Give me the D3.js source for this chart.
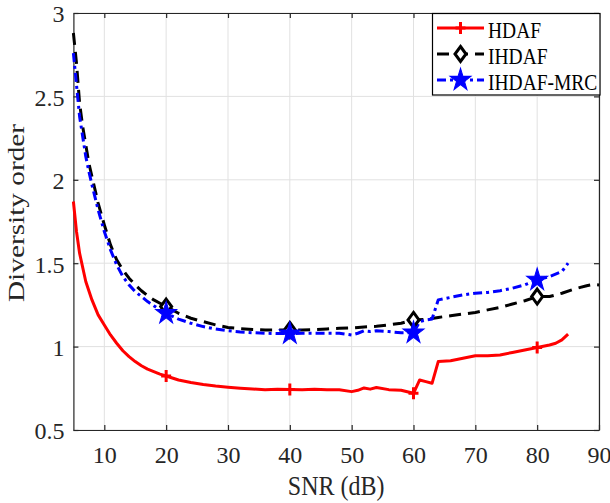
<!DOCTYPE html>
<html><head><meta charset="utf-8">
<script src="https://cdn.jsdelivr.net/npm/d3@7"></script>
<style>
html,body{margin:0;padding:0;background:#fff;}
svg{display:block;font-family:"Liberation Serif","Times New Roman",serif;}
</style></head>
<body>
<svg id="chart" width="610" height="503"></svg>
<script>
// ---- data ----
const seriesNames = ["HDAF", "IHDAF", "IHDAF-MRC"];
const snrHdaf = [5,5.5,6,7,8,9,10,11,12,13,14,15,16,17,18,19,20,22,24,26,28,30,32,34,36,38,40,42,44,46,48,50,51,52,53,54,56,58,60,61,62,63,64,66,68,70,72,74,76,78,80,82,83,84,85];
const hdaf = [1.87,1.69,1.56,1.39,1.28,1.19,1.13,1.07,1.02,0.975,0.94,0.91,0.885,0.865,0.85,0.835,0.824,0.80,0.785,0.773,0.764,0.757,0.751,0.746,0.742,0.745,0.743,0.741,0.744,0.742,0.741,0.73,0.738,0.752,0.745,0.755,0.742,0.738,0.72,0.80,0.79,0.78,0.91,0.915,0.93,0.945,0.945,0.95,0.965,0.98,0.995,1.01,1.02,1.04,1.075];
const snrIhdaf = [5,5.5,6,6.5,7,7.5,8,9,10,11,12,13,14,15,16,17,18,19,20,22,24,26,28,30,32,34,36,38,40,42,44,46,48,50,52,54,56,58,60,62,64,66,68,70,72,74,76,78,80,82,84,86,88,89,90];
const ihdaf = [2.88,2.70,2.46,2.32,2.21,2.10,2.02,1.86,1.73,1.61,1.52,1.46,1.41,1.37,1.335,1.305,1.28,1.26,1.24,1.20,1.17,1.15,1.13,1.115,1.108,1.103,1.10,1.10,1.10,1.10,1.102,1.106,1.11,1.112,1.118,1.122,1.13,1.14,1.16,1.163,1.175,1.185,1.195,1.205,1.22,1.235,1.255,1.275,1.30,1.30,1.32,1.345,1.365,1.372,1.37];
const snrMrc = [5,5.5,6,6.5,7,7.5,8,9,10,11,12,13,14,15,16,17,18,19,20,22,24,26,28,30,32,34,36,38,40,42,44,46,48,49,50,51,52,53,54,56,58,60,61,62,63,64,66,68,70,72,74,76,78,80,82,84,85];
const ihdafMrc = [2.76,2.57,2.38,2.26,2.14,2.05,1.97,1.82,1.69,1.58,1.49,1.42,1.37,1.33,1.30,1.27,1.245,1.22,1.20,1.165,1.14,1.12,1.105,1.095,1.088,1.083,1.08,1.078,1.078,1.08,1.08,1.08,1.08,1.075,1.07,1.08,1.095,1.09,1.095,1.09,1.083,1.083,1.15,1.16,1.165,1.28,1.295,1.31,1.32,1.325,1.335,1.35,1.37,1.40,1.42,1.45,1.50];
const markerSnr = [20, 40, 60, 80];
const xTicks = [10,20,30,40,50,60,70,80,90];
const yTicks = [0.5,1,1.5,2,2.5,3];
const xLabel = "SNR (dB)";
const yLabel = "Diversity order";

// ---- layout ----
const svg = d3.select("#chart");
const L = 73.4, R = 599, T = 13, B = 430;
const x = d3.scaleLinear().domain([5, 90]).range([L, R]);
const y = d3.scaleLinear().domain([0.5, 3]).range([B, T]);
const axisColor = "#262626";

// grid
const grid = svg.append("g").attr("stroke", "#e1e1e1").attr("stroke-width", 1);
grid.selectAll(".gx").data(xTicks).join("line")
  .attr("x1", d => x(d)).attr("x2", d => x(d)).attr("y1", T).attr("y2", B);
grid.selectAll(".gy").data(yTicks).join("line")
  .attr("y1", d => y(d)).attr("y2", d => y(d)).attr("x1", L).attr("x2", R);

// axes
function styleAxis(g) {
  g.selectAll("path.domain").attr("stroke", axisColor).attr("stroke-width", 1.2);
  g.selectAll(".tick line").attr("stroke", axisColor).attr("stroke-width", 1.2);
  g.selectAll("text").attr("fill", axisColor).style("font-size", "24px")
    .style("font-family", '"Liberation Serif","Times New Roman",serif');
}
const gx = svg.append("g").attr("transform", `translate(0,${B})`)
  .call(d3.axisBottom(x).tickValues(xTicks).tickSize(-5).tickSizeOuter(0).tickFormat(d3.format("d")));
gx.selectAll(".tick text").attr("y", 33).attr("dy", 0);
styleAxis(gx);
const gxt = svg.append("g").attr("transform", `translate(0,${T})`)
  .call(d3.axisTop(x).tickValues(xTicks).tickSize(-5).tickSizeOuter(0).tickFormat(""));
styleAxis(gxt);
const gy = svg.append("g").attr("transform", `translate(${L},0)`)
  .call(d3.axisLeft(y).tickValues(yTicks).tickSize(-5).tickSizeOuter(0).tickFormat(d => String(d)));
gy.selectAll(".tick text").attr("x", -9).attr("dy", "0.37em");
styleAxis(gy);
const gyr = svg.append("g").attr("transform", `translate(${R},0)`)
  .call(d3.axisRight(y).tickValues(yTicks).tickSize(-5).tickSizeOuter(0).tickFormat(""));
styleAxis(gyr);

// axis labels
svg.append("text").attr("transform", `translate(${(L + R) / 2},495) scale(1,1.15)`)
  .attr("text-anchor", "middle").attr("fill", axisColor).style("font-size", "24px").text(xLabel);
svg.append("text").attr("transform", `translate(24,213) scale(1,1.22) rotate(-90)`)
  .attr("text-anchor", "middle").attr("fill", axisColor).style("font-size", "24px").text(yLabel);

// series
const series = [
  {name: seriesNames[0], xs: snrHdaf, ys: hdaf, color: "#ff0000", dash: null, marker: "plus"},
  {name: seriesNames[1], xs: snrIhdaf, ys: ihdaf, color: "#000000", dash: "12,7", marker: "diamond"},
  {name: seriesNames[2], xs: snrMrc, ys: ihdafMrc, color: "#0000ff", dash: "9,4,3,4", marker: "star"}
];
const line = d3.line().x(d => x(d[0])).y(d => y(d[1]));
const starPath = d3.symbol(d3.symbolStar, 135)();

function drawMarker(g, type, cx, cy, color) {
  if (type === "plus") {
    g.append("path").attr("d", `M${cx-5},${cy}H${cx+5}M${cx},${cy-6}V${cy+6}`)
      .attr("stroke", color).attr("stroke-width", 3).attr("fill", "none");
  } else if (type === "diamond") {
    g.append("path").attr("d", `M${cx},${cy-7.5}L${cx+5.5},${cy}L${cx},${cy+7.5}L${cx-5.5},${cy}Z`)
      .attr("stroke", color).attr("stroke-width", 3).attr("fill", "#fff");
  } else {
    g.append("path").attr("d", starPath).attr("transform", `translate(${cx},${cy}) scale(1,1.08)`)
      .attr("fill", color).attr("stroke", color).attr("stroke-width", 1);
  }
}

series.forEach(s => {
  const pts = s.xs.map((v, i) => [v, s.ys[i]]);
  svg.append("path").datum(pts).attr("d", line)
    .attr("fill", "none").attr("stroke", s.color).attr("stroke-width", 3)
    .attr("stroke-dasharray", s.dash).attr("stroke-linejoin", "round");
});
series.forEach(s => {
  const g = svg.append("g");
  markerSnr.forEach(m => {
    const i = s.xs.indexOf(m);
    drawMarker(g, s.marker, x(m), y(s.ys[i]), s.color);
  });
});

// legend
const lg = svg.append("g");
lg.append("rect").attr("x", 432.5).attr("y", 13.5).attr("width", 167.5).attr("height", 81.5)
  .attr("fill", "#fff").attr("stroke", "#000").attr("stroke-width", 1.2);
const rowY = [28, 54, 80];
series.forEach((s, i) => {
  const yy = rowY[i];
  lg.append("line").attr("x1", 437).attr("x2", 484).attr("y1", yy).attr("y2", yy)
    .attr("stroke", s.color).attr("stroke-width", 3).attr("stroke-dasharray", s.dash);
  drawMarker(lg, s.marker, 460.5, yy, s.color);
  lg.append("text").attr("transform", `translate(488,${yy + 10}) scale(1,1.15)`)
    .attr("fill", "#000").style("font-size", "19.5px").text(s.name);
});
</script>
</body></html>
